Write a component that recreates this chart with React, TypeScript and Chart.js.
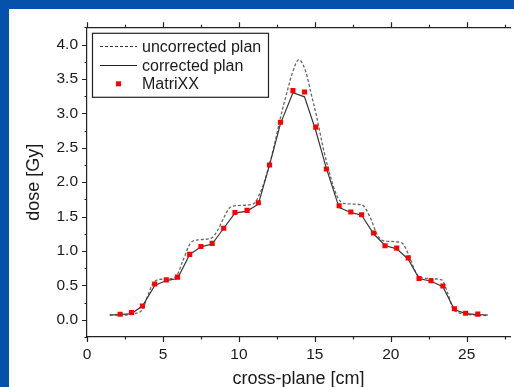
import React, { useEffect, useRef } from "react";
import { Chart, registerables } from "chart.js";

Chart.register(...registerables);

// ---- data ----
const seriesNames = ["uncorrected plan", "corrected plan", "MatriXX"];
const xTitle = "cross-plane [cm]";
const yTitle = "dose [Gy]";

const X_MIN = 0;
const X_MAX = 27.85;
const Y_MIN = -0.25;
const Y_MAX = 4.25;
const X_LABEL_STEP = 5;
const X_MINOR_STEP = 2.5;
const Y_LABEL_STEP = 0.5;
const Y_MINOR_STEP = 0.25;

const xTickValues = [0, 5, 10, 15, 20, 25];
const yTickValues = [0, 0.5, 1.0, 1.5, 2.0, 2.5, 3.0, 3.5, 4.0];

const matrixxX = [2.18, 2.93, 3.65, 4.46, 5.22, 5.96, 6.76, 7.5, 8.24, 9.0, 9.74, 10.54, 11.28, 12.02, 12.74, 13.56,
  14.32, 15.06, 15.76, 16.6, 17.37, 18.08, 18.87, 19.62, 20.39, 21.15, 21.86, 22.65, 23.43, 24.19, 24.93, 25.73];
const matrixxY = [0.08, 0.105, 0.2, 0.52, 0.58, 0.62, 0.95, 1.066, 1.11, 1.33, 1.56, 1.59, 1.7, 2.25, 2.87, 3.33,
  3.31, 2.8, 2.19, 1.657, 1.566, 1.527, 1.26, 1.076, 1.042, 0.9, 0.6, 0.567, 0.49, 0.16, 0.096, 0.082];

const correctedX = [1.5, 2.18, 2.93, 3.65, 4.46, 5.22, 5.96, 6.76, 7.5, 8.24, 9.0, 9.74, 10.54, 11.28, 12.02, 12.74,
  13.56, 14.32, 15.06, 15.76, 16.6, 17.37, 18.08, 18.87, 19.62, 20.39, 21.15, 21.86, 22.65, 23.43, 24.19, 24.93, 25.73, 26.4];
const correctedY = [0.07, 0.075, 0.09, 0.2, 0.5, 0.57, 0.6, 0.95, 1.06, 1.1, 1.33, 1.55, 1.58, 1.68, 2.25, 2.85,
  3.3, 3.24, 2.75, 2.2, 1.63, 1.56, 1.52, 1.25, 1.08, 1.03, 0.88, 0.6, 0.56, 0.48, 0.15, 0.09, 0.075, 0.07];

const uncorrectedX = [1.5, 2.6, 3.1, 3.65, 4.0, 4.41, 5.0, 5.83, 6.3, 6.8, 7.3, 8.21, 8.6, 9.0, 9.41, 9.9, 10.93, 11.37,
  11.65, 12.24, 12.75, 13.17, 13.54, 13.95, 14.41, 14.73, 15.12, 15.6, 16.15, 16.5, 16.9, 18.1, 18.64, 19.08, 19.4,
  19.8, 20.7, 21.15, 21.58, 21.9, 22.4, 23.35, 23.75, 24.08, 24.5, 25.0, 26.36];
const uncorrectedY = [0.07, 0.07, 0.09, 0.15, 0.35, 0.55, 0.59, 0.62, 0.85, 1.11, 1.16, 1.19, 1.3, 1.48, 1.63, 1.66, 1.68, 1.83,
  1.99, 2.45, 2.95, 3.31, 3.6, 3.78, 3.6, 3.31, 2.95, 2.45, 1.99, 1.78, 1.69, 1.67, 1.49, 1.25, 1.16,
  1.14, 1.12, 0.96, 0.72, 0.62, 0.6, 0.58, 0.385, 0.17, 0.1, 0.08, 0.06];

const FONT = "'Liberation Sans', Arial, sans-serif";
const TEXT = "#1a1a1a";
const AXIS = "#222222";

const toPoints = (xs: number[], ys: number[]) => xs.map((x, i) => ({ x, y: ys[i] }));

const isMultiple = (v: number, step: number) => Math.abs(v / step - Math.round(v / step)) < 1e-6;

const ticksPlugin = {
  id: "originTicks",
  afterDraw(chart: any) {
    const { ctx, chartArea, scales } = chart;
    const xs = scales.x;
    const ys = scales.y;
    ctx.save();
    ctx.strokeStyle = AXIS;
    ctx.lineWidth = 1.2;
    ctx.beginPath();
    for (let v = X_MIN; v <= X_MAX + 1e-9; v += X_MINOR_STEP) {
      const px = Math.round(xs.getPixelForValue(v)) + 0.5;
      const len = isMultiple(v, X_LABEL_STEP) ? 5 : 2.5;
      ctx.moveTo(px, chartArea.bottom);
      ctx.lineTo(px, chartArea.bottom + len);
      ctx.moveTo(px, chartArea.top);
      ctx.lineTo(px, chartArea.top - len);
    }
    for (let v = Y_MIN; v <= Y_MAX + 1e-9; v += Y_MINOR_STEP) {
      const py = Math.round(ys.getPixelForValue(v)) + 0.5;
      const len = isMultiple(v, Y_LABEL_STEP) ? 5 : 2.5;
      ctx.moveTo(chartArea.left, py);
      ctx.lineTo(chartArea.left - len, py);
    }
    ctx.stroke();
    ctx.restore();
  },
};

const legendPlugin = {
  id: "boxLegend",
  afterDraw(chart: any) {
    const { ctx, chartArea } = chart;
    const ds = chart.data.datasets;
    const bx = chartArea.left + 5;
    const by = chartArea.top + 5.5;
    const bw = 176;
    const bh = 64;
    ctx.save();
    ctx.fillStyle = "#ffffff";
    ctx.fillRect(bx, by, bw, bh);
    ctx.strokeStyle = AXIS;
    ctx.lineWidth = 1.2;
    ctx.strokeRect(bx + 0.5, by + 0.5, bw, bh);
    const rows = [by + 13.5, by + 32.5, by + 51];
    const lx0 = bx + 8;
    const lx1 = bx + 45;
    const tx = bx + 50;
    ctx.font = `16px ${FONT}`;
    ctx.textBaseline = "middle";
    ctx.fillStyle = TEXT;
    ctx.beginPath();
    ctx.setLineDash(ds[2].borderDash || []);
    ctx.strokeStyle = "#333333";
    ctx.lineWidth = 1.1;
    ctx.moveTo(lx0, Math.round(rows[0]) + 0.5);
    ctx.lineTo(lx1, Math.round(rows[0]) + 0.5);
    ctx.stroke();
    ctx.setLineDash([]);
    ctx.beginPath();
    ctx.strokeStyle = "#222222";
    ctx.lineWidth = 1.1;
    ctx.moveTo(lx0, Math.round(rows[1]) + 0.5);
    ctx.lineTo(lx1, Math.round(rows[1]) + 0.5);
    ctx.stroke();
    ctx.fillStyle = ds[0].backgroundColor;
    const mx = (lx0 + lx1) / 2;
    ctx.fillRect(mx - 2.5, rows[2] - 2.5, 5, 5);
    ctx.fillStyle = TEXT;
    ctx.fillText(seriesNames[0], tx, rows[0] + 1);
    ctx.fillText(seriesNames[1], tx, rows[1] + 1);
    ctx.fillText(seriesNames[2], tx, rows[2] + 1);
    ctx.restore();
  },
};

export default function App() {
  const canvasRef = useRef<HTMLCanvasElement | null>(null);

  useEffect(() => {
    const canvas = canvasRef.current;
    if (!canvas) return;
    const chart = new Chart(canvas, {
      type: "scatter",
      data: {
        datasets: [
          {
            label: seriesNames[2],
            data: toPoints(matrixxX, matrixxY),
            showLine: false,
            pointStyle: "rect",
            pointRadius: 3.6,
            pointBorderWidth: 0,
            backgroundColor: "#ff0000",
            borderColor: "#ff0000",
            order: 0,
          },
          {
            label: seriesNames[1],
            data: toPoints(correctedX, correctedY),
            showLine: true,
            pointRadius: 0,
            borderColor: "#383838",
            borderWidth: 1.2,
            tension: 0,
            order: 1,
          },
          {
            label: seriesNames[0],
            data: toPoints(uncorrectedX, uncorrectedY),
            showLine: true,
            pointRadius: 0,
            borderColor: "#666666",
            borderWidth: 1.3,
            borderDash: [3, 2],
            cubicInterpolationMode: "monotone",
            order: 2,
          },
        ],
      },
      options: {
        responsive: false,
        animation: false,
        layout: { padding: 0 },
        plugins: { legend: { display: false }, tooltip: { enabled: false } },
        scales: {
          x: {
            type: "linear",
            position: "bottom",
            min: X_MIN,
            max: X_MAX,
            grid: { display: false, drawTicks: false },
            border: { display: true, color: AXIS, width: 1.2 },
            afterBuildTicks: (s: any) => {
              s.ticks = xTickValues.map((value) => ({ value }));
            },
            ticks: {
              padding: 8,
              color: TEXT,
              font: { family: FONT, size: 15.5 },
              maxRotation: 0,
              autoSkip: false,
              callback: (v: any) => String(v),
            },
            title: {
              display: true,
              text: xTitle,
              color: TEXT,
              font: { family: FONT, size: 18, lineHeight: 1 },
              padding: { top: 0, bottom: -1.5 },
            },
            afterFit: (s: any) => {
              s.height = 50;
            },
          },
          x2: {
            type: "linear",
            position: "top",
            min: X_MIN,
            max: X_MAX,
            grid: { display: false, drawTicks: false },
            border: { display: true, color: AXIS, width: 1.2 },
            ticks: { display: false },
            afterFit: (s: any) => {
              s.height = 15;
            },
          },
          y: {
            type: "linear",
            position: "left",
            min: Y_MIN,
            max: Y_MAX,
            grid: { display: false, drawTicks: false },
            border: { display: true, color: AXIS, width: 1.2 },
            afterBuildTicks: (s: any) => {
              s.ticks = yTickValues.map((value) => ({ value }));
            },
            ticks: {
              padding: 9,
              color: TEXT,
              autoSkip: false,
              font: { family: FONT, size: 15.5 },
              callback: (v: any) => Number(v).toFixed(1),
            },
            title: {
              display: true,
              text: yTitle,
              color: TEXT,
              font: { family: FONT, size: 18, lineHeight: 1 },
              padding: { top: 16, bottom: 0 },
            },
            afterFit: (s: any) => {
              s.width = 78;
            },
          },
        },
      },
      plugins: [ticksPlugin, legendPlugin],
    } as any);
    return () => chart.destroy();
  }, []);

  return (
    <div
      style={{
        position: "absolute",
        left: 0,
        top: 0,
        width: 514,
        height: 387,
        background: "#0452ab",
        overflow: "hidden",
      }}
    >
      <div style={{ position: "absolute", left: 9, top: 9, width: 505, height: 378, background: "#ffffff" }}>
        <canvas ref={canvasRef} width={505} height={378} style={{ display: "block", width: 505, height: 378 }} />
      </div>
    </div>
  );
}
